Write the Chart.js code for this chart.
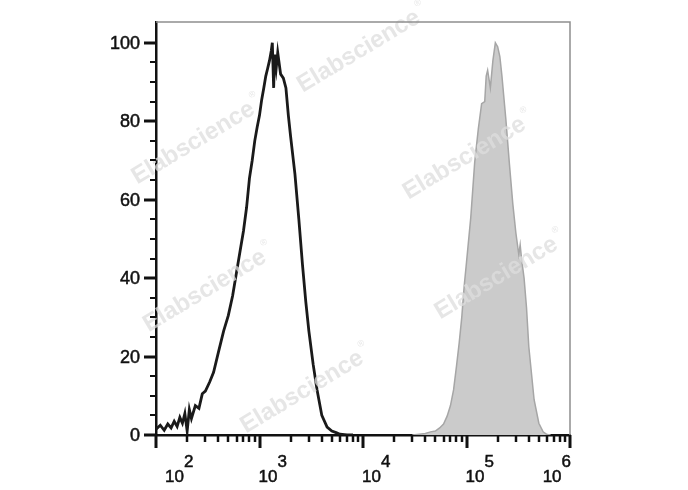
<!DOCTYPE html>
<html>
<head>
<meta charset="utf-8">
<script src="https://cdn.jsdelivr.net/npm/chart.js@4.4.0/dist/chart.umd.min.js"></script>
<style>
    html, body { margin: 0; padding: 0; background: #fff; }
    #wrap { width: 688px; height: 490px; }
</style>
</head>
<body>
<div id="wrap"><canvas id="hist-chart" width="688" height="490"></canvas></div>
<script>
// unstained control (black outline): fluorescence intensity / % of max
const controlX = [100, 110, 120, 130, 140, 150, 160, 170, 180, 190, 200, 210, 220, 240, 260, 280, 300, 330, 360, 400,
    450, 500, 550, 600, 650, 700, 750, 800, 850, 900, 950, 1000, 1050, 1100, 1150, 1200, 1250, 1300, 1330, 1370,
    1400, 1450, 1500, 1600, 1700, 1800, 1900, 2000, 2200, 2400, 2600, 2800, 3000, 3300, 3600, 4000, 4500, 5000,
    5500, 6000, 7000, 8000];
const controlY = [1.5, 2.5, 1.2, 2.8, 1.8, 3.5, 2.2, 4.5, 3.0, 5.5, 1.0, 6.5, 4.2, 7.5, 6.8, 10.5, 11.2, 13.5, 16.0, 21.0,
    26.5, 30.5, 35.5, 41.5, 47.0, 52.0, 58.0, 65.5, 70.0, 75.0, 78.5, 81.5, 85.5, 88.5, 91.5, 93.5, 95.5, 98.0, 100, 88.5,
    97.0, 93.5, 97.5, 92.0, 91.0, 88.5, 81.5, 76.0, 66.5, 55.0, 43.5, 34.0, 26.5, 18.0, 11.5, 5.0, 2.0, 1.0,
    0.6, 0.2, 0, 0];

// stained sample (grey filled)
const stainedX = [30000, 35000, 40000, 45000, 50000, 55000, 60000, 65000, 70000, 75000, 80000, 85000, 90000, 95000,
    100000, 110000, 120000, 130000, 140000, 150000, 155000, 160000, 170000, 180000, 190000, 200000, 210000, 220000,
    240000, 260000, 280000, 300000, 320000, 330000, 340000, 360000, 380000, 400000, 450000, 500000, 550000, 600000, 650000];
const stainedY = [0, 0.2, 0.4, 0.8, 1.0, 1.8, 2.8, 4.8, 7.5, 11.5, 17.5, 23.5, 30.0, 38.0,
    44.0, 55.5, 69.5, 78.0, 84.5, 85.0, 91.5, 93.0, 88.5, 95.5, 100, 99.0, 96.5, 91.5,
    80.5, 69.0, 59.0, 51.5, 46.0, 48.5, 45.0, 40.0, 32.5, 22.5, 9.0, 3.0, 0.8, 0.1, 0];

// axis ticks
const yTickLabels = [0, 20, 40, 60, 80, 100];
const xDecades = [2, 3, 4, 5, 6];
const watermarkText = 'Elabscience';

const toPoints = (xs, ys) => xs.map((x, i) => ({ x: x, y: ys[i] }));

// text with a hairline stroke so it reads a little heavier
const heavyText = (ctx, txt, x, y) => {
    ctx.fillText(txt, x, y);
    ctx.strokeText(txt, x, y);
};

// draws watermarks, tick marks, tick labels and the grey frame
const axisDecor = {
    id: 'axisDecor',
    afterDatasetDraw(chart, args) {
        if (args.index !== 0) return;
        const ctx = chart.ctx;
        // watermark centres, as fractions of the chart area
        const spots = [[0.090, 0.293], [0.490, 0.071], [0.745, 0.330], [0.822, 0.620], [0.118, 0.651], [0.353, 0.896]];
        const a = chart.chartArea;
        ctx.save();
        spots.forEach(([fx, fy]) => {
            ctx.save();
            ctx.translate(a.left + fx * (a.right - a.left), a.top + fy * (a.bottom - a.top));
            ctx.rotate(-31 * Math.PI / 180);
            ctx.font = 'bold 24px "Liberation Sans", Arial, sans-serif';
            ctx.fillStyle = 'rgba(221,221,221,0.75)';
            ctx.textAlign = 'center';
            ctx.textBaseline = 'middle';
            ctx.fillText(watermarkText, 0, 0);
            const w = ctx.measureText(watermarkText).width;
            ctx.font = '9px "Liberation Sans", Arial, sans-serif';
            ctx.fillText('\u00AE', w / 2 + 6, -11);
            ctx.restore();
        });
        ctx.restore();
    },
    afterDraw(chart) {
        const ctx = chart.ctx;
        const a = chart.chartArea;
        const xs = chart.scales.x;
        const ys = chart.scales.y;
        ctx.save();

        // grey frame on top and right
        ctx.strokeStyle = '#8e8e8e';
        ctx.lineWidth = 1.5;
        ctx.beginPath();
        ctx.moveTo(a.left, a.top);
        ctx.lineTo(a.right, a.top);
        ctx.lineTo(a.right, a.bottom);
        ctx.stroke();

        // y ticks: minor every 5, major every 20
        ctx.strokeStyle = '#111';
        for (let v = 0; v <= 100; v += 5) {
            const py = Math.round(ys.getPixelForValue(v));
            const major = v % 20 === 0;
            ctx.lineWidth = major ? 3 : 2;
            ctx.beginPath();
            ctx.moveTo(a.left, py);
            ctx.lineTo(a.left - (major ? 12 : 6), py);
            ctx.stroke();
        }

        // x ticks: decades major, 2..9 minor
        xDecades.forEach((d) => {
            const ks = d < 6 ? [1, 2, 3, 4, 5, 6, 7, 8, 9] : [1];
            ks.forEach((k) => {
                const px = Math.round(xs.getPixelForValue(k * Math.pow(10, d)));
                const major = k === 1;
                ctx.lineWidth = major ? 3 : 2.5;
                ctx.beginPath();
                ctx.moveTo(px, a.bottom);
                ctx.lineTo(px, a.bottom + (major ? 13 : 7));
                ctx.stroke();
            });
        });

        // y labels
        ctx.fillStyle = '#111';
        ctx.strokeStyle = '#111';
        ctx.lineWidth = 0.5;
        ctx.font = '18px "Liberation Sans", Arial, sans-serif';
        ctx.textAlign = 'right';
        ctx.textBaseline = 'middle';
        yTickLabels.forEach((v) => {
            heavyText(ctx, String(v), a.left - 16, ys.getPixelForValue(v) + 1);
        });

        // x labels as 10 with a raised exponent
        ctx.textAlign = 'left';
        ctx.textBaseline = 'alphabetic';
        ctx.font = '17px "Liberation Sans", Arial, sans-serif';
        xDecades.forEach((d) => {
            const base = '10';
            const exp = String(d);
            const wb = ctx.measureText(base).width;
            const we = ctx.measureText(exp).width;
            let x0 = xs.getPixelForValue(Math.pow(10, d)) - 1;
            if (x0 < a.left + 9) x0 = a.left + 9;
            if (x0 + wb + we > a.right + 1) x0 = a.right + 1 - wb - we;
            heavyText(ctx, base, x0, 482);
            heavyText(ctx, exp, x0 + wb, 467);
        });
        ctx.restore();
    }
};

const histChart = new Chart(document.getElementById('hist-chart'), {
    type: 'line',
    data: {
        datasets: [{
            label: 'Stained',
            data: toPoints(stainedX, stainedY),
            borderColor: '#a6a6a6',
            backgroundColor: '#cbcbcb',
            borderWidth: 1.5,
            fill: 'origin',
            pointRadius: 0,
            tension: 0
        }, {
            label: 'Control',
            data: toPoints(controlX, controlY),
            borderColor: '#1a1a1a',
            borderWidth: 2.8,
            fill: false,
            pointRadius: 0,
            tension: 0
        }]
    },
    options: {
        responsive: false,
        animation: false,
        devicePixelRatio: 1,
        layout: { padding: { left: 156, right: 118, top: 22, bottom: 55 } },
        plugins: {
            legend: { display: false },
            tooltip: { enabled: false }
        },
        scales: {
            x: {
                type: 'logarithmic',
                min: 100,
                max: 1000000,
                grid: { display: false, drawTicks: false },
                ticks: { display: false },
                border: { display: true, color: '#111', width: 2.5 }
            },
            y: {
                type: 'linear',
                min: 0,
                max: 105.3,
                grid: { display: false, drawTicks: false },
                ticks: { display: false },
                border: { display: true, color: '#111', width: 2.5 }
            }
        }
    },
    plugins: [axisDecor]
});
</script>
</body>
</html>
